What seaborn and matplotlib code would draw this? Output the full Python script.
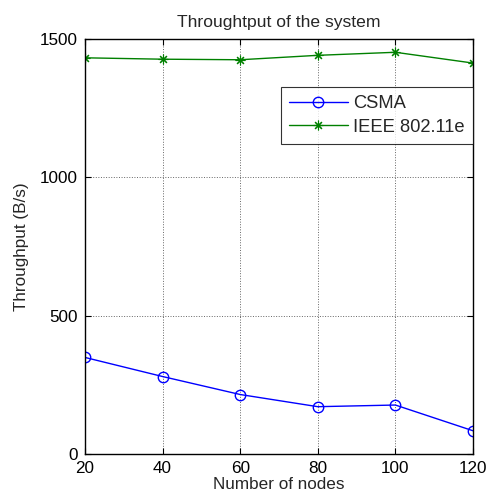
import matplotlib
matplotlib.use("Agg")
import matplotlib.pyplot as plt
import seaborn as sns
import pandas as pd

nodes = [20, 40, 60, 80, 100, 120]
csma = [349, 280, 215, 171, 177, 84]
ieee = [1432, 1427, 1425, 1441, 1452, 1413]
x_ticks = [20, 40, 60, 80, 100, 120]
y_ticks = [0, 500, 1000, 1500]

sns.set_style("white")
plt.rcParams['font.family'] = ['Liberation Sans', 'DejaVu Sans']
FS = 12.3

df = pd.DataFrame({"nodes": nodes * 2,
                   "thr": csma + ieee,
                   "series": ["CSMA"] * len(nodes) + ["IEEE 802.11e"] * len(nodes)})

fig = plt.figure(figsize=(4.88, 5.01), dpi=100)
ax = fig.add_axes([85 / 488, 1 - 454 / 501, 388 / 488, 415 / 501])

sns.lineplot(data=df[df.series == "CSMA"], x="nodes", y="thr", ax=ax,
             color=(0, 0, 1), marker="o", markersize=7.5, markerfacecolor="none",
             markeredgecolor=(0, 0, 1), markeredgewidth=1.0, linewidth=1.0,
             label="CSMA")
sns.lineplot(data=df[df.series == "IEEE 802.11e"], x="nodes", y="thr", ax=ax,
             color=(0, 0.5, 0), marker=(8, 2, 0), markersize=7,
             markeredgecolor=(0, 0.5, 0), markeredgewidth=0.8, linewidth=1.0,
             label="IEEE 802.11e")

ax.set_xlim(20, 120)
ax.set_ylim(0, 1500)
ax.set_xticks(x_ticks)
ax.set_yticks(y_ticks)
ax.grid(True, linestyle=":", color="#666666", linewidth=0.7)
for s in ax.spines.values():
    s.set_visible(True)
    s.set_color("black")
    s.set_linewidth(1.0)
ax.tick_params(direction="in", length=4, top=True, right=True,
               bottom=True, left=True, labelsize=FS, colors="black", pad=5)
ax.set_xlabel("Number of nodes", fontsize=FS, labelpad=1)
ax.set_ylabel("Throughput (B/s)", fontsize=FS, labelpad=8)
ax.set_title("Throughtput of the system", fontsize=12.6, pad=9)

leg = ax.legend(loc="upper right", bbox_to_anchor=(1.0, 0.884), borderaxespad=0,
                frameon=True, fancybox=False, edgecolor="black", fontsize=13.2,
                handlelength=3.2, handletextpad=0.3, borderpad=0.45,
                labelspacing=0.35)
leg.get_frame().set_linewidth(0.8)

fig.savefig("out.png", dpi=100)
